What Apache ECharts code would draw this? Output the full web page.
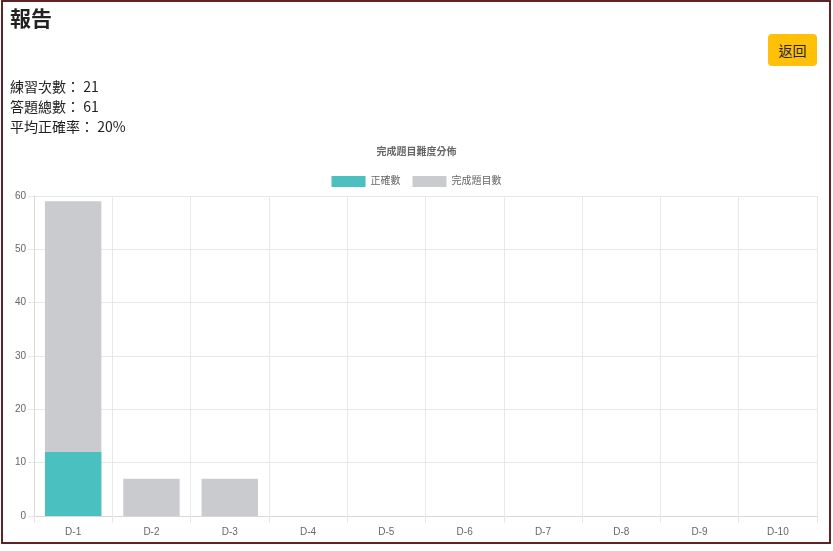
<!DOCTYPE html>
<html>
<head>
<meta charset="utf-8">
<script src="https://cdn.jsdelivr.net/npm/echarts@6/dist/echarts.min.js"></script>
<style>
  html, body { margin: 0; padding: 0; background: #fff; width: 833px; height: 551px; overflow: hidden; }
  #frame { position: absolute; left: 1px; top: 0px; width: 826px; height: 540px; border: 2px solid #5c2424; }
  .t { position: absolute; font-family: "Noto Sans CJK TC", "Noto Sans", sans-serif; color: #222; white-space: nowrap; }
  #h { left: 10px; top: 2px; font-size: 21px; font-weight: bold; line-height: 30px; }
  .s { left: 10px; font-size: 14px; line-height: 20px; }
  #btn { position: absolute; left: 768px; top: 34px; width: 49px; height: 32px; background: #ffc107; border-radius: 4px;
         font-family: "Noto Sans CJK TC", sans-serif; font-size: 14px; line-height: 32px; text-align: center; color: #222; }
  #chart { position: absolute; left: 0; top: 0; width: 833px; height: 551px; }
</style>
</head>
<body>
<div id="chart"></div>
<div id="frame"></div>
<div class="t" id="h">報告</div>
<div id="btn">返回</div>
<div class="t s" style="top:76px">練習次數： 21</div>
<div class="t s" style="top:96px">答題總數： 61</div>
<div class="t s" style="top:116px">平均正確率： 20%</div>
<script>
const categories = ['D-1','D-2','D-3','D-4','D-5','D-6','D-7','D-8','D-9','D-10'];
const correctCounts = [12, 0, 0, 0, 0, 0, 0, 0, 0, 0];
const completedCounts = [59, 7, 7, 0, 0, 0, 0, 0, 0, 0];
const seriesNames = ['正確數', '完成題目數'];
const chartTitle = '完成題目難度分佈';

const chart = echarts.init(document.getElementById('chart'));
const grid = '#e8e8e8';
const font = 'Liberation Sans, Arial, "Noto Sans CJK TC", sans-serif';
chart.setOption({
  animation: false,
  title: { text: chartTitle, left: 'center', top: 147, padding: 0,
    textStyle: { fontSize: 10, fontWeight: 'bold', color: '#666', fontFamily: font } },
  legend: { top: 176, left: 'center', itemWidth: 34, itemHeight: 11, itemGap: 12, padding: 0,
    icon: 'rect',
    textStyle: { fontSize: 10, color: '#666', fontFamily: font },
    data: seriesNames },
  grid: { left: 34, right: 16, top: 196, bottom: 35, containLabel: false },
  xAxis: {
    type: 'category', data: categories, boundaryGap: true,
    axisLine: { lineStyle: { color: '#d8d8d8' } },
    axisTick: { show: true, length: 7, lineStyle: { color: grid } },
    splitLine: { show: true, lineStyle: { color: grid } },
    axisLabel: { color: '#666', fontSize: 10, margin: 11, fontFamily: font }
  },
  yAxis: {
    type: 'value', min: 0, max: 60, interval: 10,
    axisLine: { show: true, lineStyle: { color: '#d8d8d8' } },
    axisTick: { show: true, length: 6, lineStyle: { color: grid } },
    splitLine: { show: true, lineStyle: { color: grid } },
    axisLabel: { color: '#666', fontSize: 10, margin: 8, fontFamily: font }
  },
  series: [
    { name: seriesNames[0], type: 'bar', data: correctCounts, barWidth: '72%', barGap: '-100%', z: 3,
      itemStyle: { color: '#4bc0c0' } },
    { name: seriesNames[1], type: 'bar', data: completedCounts, barWidth: '72%', z: 2,
      itemStyle: { color: '#c9cbcf' } }
  ]
});
</script>
</body>
</html>
